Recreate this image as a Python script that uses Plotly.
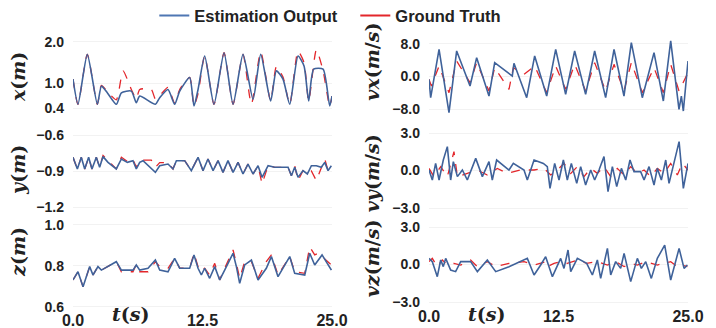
import plotly.graph_objects as go

# ---------------- data ----------------
t_x_est = [0, 0.48, 1.38, 2.35, 2.74, 3.31, 4.18, 4.67, 5.63, 6.11, 6.44, 7.95, 8.37, 9.17, 9.81,
           10.30, 11.26, 11.68, 12.07, 12.71, 13.61, 14.58, 15.45, 16.41, 17.38, 18.12, 19.08,
           19.63, 20.27, 20.92, 21.72, 22.30, 22.75, 23.23, 24.14, 24.78, 25.0]
x_est = [1.10, 0.49, 1.70, 0.49, 0.93, 0.77, 0.49, 0.77, 0.81, 0.53, 0.69, 0.49, 0.65, 0.85, 0.49,
         0.81, 1.14, 0.45, 0.85, 1.66, 0.49, 1.74, 0.49, 1.70, 0.61, 1.70, 0.57,
         1.30, 1.10, 0.49, 1.66, 1.42, 0.57, 1.34, 1.34, 0.45, 0.69]
t_x_gt = [0, 0.48, 1.38, 2.35, 2.74, 3.31, 4.18, 4.83, 5.63, 6.11, 6.44, 7.56, 7.95, 8.37, 9.17,
          9.81, 10.30, 11.26, 11.68, 12.07, 12.71, 13.61, 14.58, 15.45, 16.41, 17.22, 18.12,
          19.08, 19.63, 20.27, 20.92, 21.72, 22.30, 22.75, 23.49, 24.14, 24.78, 25.0]
x_gt = [1.10, 0.49, 1.70, 0.49, 0.95, 0.80, 0.60, 1.30, 0.85, 0.62, 0.85, 0.85, 0.62, 0.70, 0.90,
        0.52, 0.85, 1.14, 0.45, 0.75, 1.66, 0.49, 1.74, 0.49, 1.70, 0.49, 1.76,
        0.57, 1.40, 1.15, 0.49, 1.78, 1.50, 0.57, 1.81, 1.30, 0.45, 0.69]

t_y = [0, 0.42, 0.80, 1.13, 1.51, 1.83, 2.25, 2.57, 2.90, 3.38, 4.18, 4.67, 5.25, 5.79, 6.11,
       6.44, 6.76, 7.56, 7.95, 8.37, 9.17, 9.65, 9.98, 10.78, 11.42, 12.07, 12.55, 13.03, 13.52,
       14.00, 14.48, 14.96, 15.45, 15.93, 16.41, 16.89, 17.38, 17.86, 18.25, 18.83, 19.47, 20.76,
       21.08, 21.40, 21.72, 22.20, 22.62, 23.01, 23.49, 23.97, 24.30, 24.62, 24.94]
y_est = [-0.786, -0.883, -0.786, -0.883, -0.786, -0.883, -0.786, -0.869, -0.780, -0.828, -0.883,
         -0.800, -0.828, -0.814, -0.883, -0.828, -0.814, -0.880, -0.911, -0.856, -0.842, -0.883,
         -0.814, -0.814, -0.897, -0.786, -0.897, -0.800, -0.897, -0.814, -0.911, -0.814, -0.911,
         -0.828, -0.925, -0.842, -0.925, -0.856, -0.953, -0.856, -0.869, -0.869, -0.939, -0.869,
         -0.953, -0.897, -0.925, -0.856, -0.856, -0.869, -0.828, -0.897, -0.856]
y_gt = [-0.786, -0.883, -0.786, -0.883, -0.786, -0.883, -0.786, -0.869, -0.770, -0.810, -0.883,
        -0.786, -0.820, -0.800, -0.870, -0.810, -0.810, -0.810, -0.870, -0.830, -0.830, -0.883,
        -0.814, -0.814, -0.897, -0.786, -0.897, -0.800, -0.897, -0.814, -0.911, -0.814, -0.911,
        -0.828, -0.925, -0.842, -0.925, -0.856, -1.008, -0.856, -0.869, -0.869, -0.939, -0.855,
        -0.980, -0.897, -0.925, -0.900, -0.980, -0.869, -0.800, -0.897, -0.856]

t_z_est = [0, 0.48, 0.97, 1.61, 1.93, 2.41, 2.74, 4.18, 4.67, 5.79, 6.11, 6.44, 7.24, 7.95, 8.37,
           9.17, 9.81, 10.30, 11.26, 11.68, 12.07, 12.39, 12.71, 13.19, 13.68, 14.16, 14.64, 15.45,
           15.77, 16.09, 16.57, 17.22, 17.86, 18.66, 19.15, 19.79, 20.92, 21.40, 22.37, 22.85,
           23.33, 24.04, 24.94]
z_est = [0.732, 0.772, 0.699, 0.797, 0.756, 0.797, 0.780, 0.821, 0.780, 0.780, 0.805, 0.780, 0.789,
         0.829, 0.780, 0.772, 0.837, 0.789, 0.789, 0.854, 0.789, 0.756, 0.789, 0.740, 0.797, 0.732,
         0.780, 0.862, 0.797, 0.715, 0.805, 0.829, 0.732, 0.789, 0.846, 0.748, 0.846, 0.764, 0.756,
         0.862, 0.805, 0.854, 0.780]
t_z_gt = [0, 0.48, 0.97, 1.61, 1.93, 2.41, 2.74, 4.18, 4.67, 5.79, 6.11, 6.44, 7.24, 7.95, 8.37,
          9.17, 9.81, 10.30, 11.26, 11.68, 12.07, 12.39, 12.71, 13.19, 13.68, 14.16, 14.64, 15.45,
          15.77, 16.09, 16.57, 17.22, 17.86, 18.66, 19.15, 19.79, 20.92, 21.40, 22.37, 22.85,
          23.33, 23.65, 24.04, 24.94]
z_gt = [0.732, 0.772, 0.699, 0.797, 0.756, 0.797, 0.780, 0.821, 0.772, 0.772, 0.808, 0.772, 0.772,
        0.821, 0.797, 0.789, 0.837, 0.789, 0.789, 0.862, 0.797, 0.772, 0.789, 0.756, 0.813, 0.732,
        0.789, 0.878, 0.813, 0.740, 0.821, 0.821, 0.740, 0.821, 0.854, 0.756, 0.846, 0.772, 0.764,
        0.894, 0.854, 0.862, 0.846, 0.805]

t_vx_est = [0, 0.16, 0.97, 1.93, 2.67, 3.96, 4.60, 5.79, 6.34, 8.04, 8.20, 9.43, 10.20, 11.36,
            12.23, 13.19, 14.06, 15.12, 15.99, 17.05, 17.86, 18.82, 19.53, 20.59, 21.72, 22.62,
            23.33, 24.13, 24.36, 24.55, 25.0]
vx_est = [-0.70, -5.21, 6.69, -8.90, 6.28, -2.34, 4.64, -4.80, 3.41, 0.12, 3.24, -5.21, 5.05, -4.80,
          6.69, -4.39, 6.28, -4.39, 6.28, -5.21, 6.69, -4.80, 8.33, -5.21, 5.87, -6.03,
          8.74, -8.08, -4.80, -8.49, 3.82]
t_vx_gt = [0, 0.23, 0.97, 1.93, 2.67, 3.96, 4.60, 5.79, 6.34, 7.72, 8.14, 9.17, 10.20, 11.36,
           12.23, 13.19, 14.06, 15.12, 15.99, 17.05, 17.86, 18.82, 19.53, 20.59, 21.72, 22.62,
           23.33, 24.13, 25.0]
vx_gt = [-0.70, -2.34, 2.58, -3.98, 3.82, -1.52, 3.41, -3.57, 2.17, -3.16, 2.17, 0.53, 2.58, -3.98,
         2.58, -3.16, 2.99, -3.57, 3.41, -3.57, 2.99, -3.57, 3.41, -3.98, 2.17, -3.98,
         2.99, -3.57, 0.94]

t_vy_est = [0, 0.32, 0.64, 0.97, 1.38, 1.77, 2.09, 2.35, 2.74, 3.22, 3.70, 4.51, 5.15, 5.79, 6.11,
            6.53, 7.72, 8.14, 9.17, 9.49, 10.14, 11.04, 11.42, 11.68, 12.13, 12.55, 12.97, 13.35,
            13.74, 14.26, 14.64, 15.12, 15.61, 15.99, 16.41, 16.89, 17.28, 17.70, 18.12, 18.57,
            18.99, 19.40, 19.79, 20.43, 20.76, 21.24, 21.72, 22.04, 22.43, 22.85, 23.17, 23.65,
            24.14, 24.55, 25.0]
vy_est = [0.04, -0.76, 0.57, -0.76, 0.84, 1.91, -0.76, 0.71, -0.49, 0.04, -0.76, 0.97, -0.49, 0.71,
          -0.76, 0.84, 0.04, 0.57, 0.04, -0.76, 0.84, 0.57, 0.31, -1.43, 0.57, -0.76, 0.84, -0.76,
          0.57, -1.03, 0.31, -1.16, 0.04, -0.76, 0.04, 1.11, -1.69, 0.31, -1.29, 0.17,
          -0.76, 0.84, -0.09, -0.09, -0.76, 0.31, -1.16, 0.17, -0.76, 0.84, -1.03, 0.57,
          2.31, -1.43, 0.57]
t_vy_gt = [0, 0.48, 1.13, 1.77, 2.41, 2.74, 3.70, 4.67, 5.63, 6.60, 7.56, 8.85, 10.14, 11.10, 11.75,
           12.39, 13.03, 13.68, 14.32, 14.96, 15.61, 16.25, 16.89, 17.54, 18.18, 18.83, 19.47,
           20.11, 20.76, 21.40, 22.04, 22.69, 23.33, 23.97, 24.46, 25.0]
vy_gt = [0.17, -0.49, 0.31, -0.49, 1.51, -0.49, -0.23, 0.04, -0.36, 0.17, -0.23, 0.04, 0.04, 0.17,
         -0.36, 0.04, 0.57, -0.23, 0.31, -0.49, 0.17, -0.23, 0.31, -0.49, 0.17, -0.36, 0.31,
         -0.23, 0.04, -0.49, 0.17, -0.23, 0.57, -0.36, 0.57, 0.04]

t_vz_est = [0, 0.32, 0.80, 1.13, 1.38, 1.61, 2.09, 2.57, 3.06, 4.02, 4.67, 5.63, 6.44, 7.72, 9.49,
            10.14, 10.78, 11.26, 11.91, 12.71, 13.03, 13.42, 13.68, 14.32, 15.22, 15.77, 16.25,
            16.57, 17.22, 17.54, 18.02, 18.50, 18.83, 19.47, 20.11, 20.50, 20.92, 21.46, 22.04,
            22.75, 23.33, 24.14, 24.62, 24.94]
vz_est = [0.49, 0.23, -0.97, 0.36, -0.17, 0.49, -0.44, -0.57, 0.23, 0.23, -0.57, 0.36, -0.57, -0.17,
          0.49, -0.84, -0.04, 0.63, -0.97, 0.49, -0.31, 1.16, -0.57, 0.49, 0.09, -0.84, 0.36,
          -1.11, 1.29, -0.84, 0.23, -0.31, 0.89, -1.37, 0.49, -0.31, 0.23, -1.11, 0.49,
          1.56, -1.24, 1.29, -0.31, -0.04]
t_vz_gt = [0, 0.32, 0.80, 1.29, 1.77, 2.41, 3.06, 4.02, 4.67, 5.63, 6.44, 7.72, 9.17, 10.14, 11.26,
           11.42, 12.07, 12.71, 13.35, 14.32, 15.22, 16.25, 17.22, 18.02, 18.83, 19.47, 20.11,
           20.92, 22.04, 22.75, 23.33, 23.97, 24.46, 24.94]
vz_gt = [0.23, 0.49, -0.17, 0.36, -0.04, 0.09, -0.04, 0.36, -0.17, 0.23, -0.17, 0.09, 0.23, -0.04,
         0.23, -0.17, 0.09, 0.23, 0.09, 0.36, 0.09, 0.23, -0.04, 0.23, -0.17, 0.09, -0.04,
         0.23, -0.04, 0.09, 0.23, -0.17, -0.04, -0.17]

x_ticks = [0.0, 12.5, 25.0]
series_names = ["Estimation Output", "Ground Truth"]

# ---------------- panels ----------------
BLUE = "#3f629a"
RED = "#e3262b"
LEFT = [73 / 716, 332 / 716]
RIGHT = [429 / 716, 688 / 716]

panels = [
    dict(t_e=t_x_est, e=x_est, t_g=t_x_gt, g=x_gt, xd=LEFT, yd=[0.6643, 0.8784],
         rng=[0.35, 2.05], ticks=[0.4, 1.0, 2.0], title="<i>x</i>(<i>m</i>)", ty=0.765, tx=18,
         shape="spline"),
    dict(t_e=t_vx_est, e=vx_est, t_g=t_vx_gt, g=vx_gt, xd=RIGHT, yd=[0.6527, 0.8808],
         rng=[-9.2, 9.2], ticks=[-8.0, 0.0, 8.0], title="<i>vx</i>(<i>m</i>/<i>s</i>)", ty=0.812, tx=372,
         shape="linear"),
    dict(t_e=t_y, e=y_est, t_g=t_y, g=y_gt, xd=LEFT, yd=[0.3616, 0.5957],
         rng=[-1.22, -0.58], ticks=[-1.2, -0.9, -0.6], title="<i>y</i>(<i>m</i>)", ty=0.482, tx=18,
         shape="linear"),
    dict(t_e=t_vy_est, e=vy_est, t_g=t_vy_gt, g=vy_gt, xd=RIGHT, yd=[0.3582, 0.6021],
         rng=[-3.2, 3.2], ticks=[-3.0, 0.0, 3.0], title="<i>vy</i>(<i>m</i>/<i>s</i>)", ty=0.472, tx=372,
         shape="linear"),
    dict(t_e=t_z_est, e=z_est, t_g=t_z_gt, g=z_gt, xd=LEFT, yd=[0.0578, 0.3203],
         rng=[0.59, 1.01], ticks=[0.6, 0.8, 1.0], title="<i>z</i>(<i>m</i>)", ty=0.232, tx=18,
         shape="linear"),
    dict(t_e=t_vz_est, e=vz_est, t_g=t_vz_gt, g=vz_gt, xd=RIGHT, yd=[0.0716, 0.3155],
         rng=[-3.2, 3.2], ticks=[-3.0, 0.0, 3.0], title="<i>vz</i>(<i>m</i>/<i>s</i>)", ty=0.213, tx=372,
         shape="linear"),
]

fig = go.Figure()
ytick_font = dict(family="Liberation Sans, Arial, sans-serif", size=14, color="#222222", weight="bold")
xtick_font = dict(family="Liberation Sans, Arial, sans-serif", size=16, color="#222222", weight="bold")
title_font = dict(family="DejaVu Serif, serif", size=19, color="#222222", weight="bold")
annotations = []
layout_axes = {}

for i, p in enumerate(panels, start=1):
    assert len(p["t_e"]) == len(p["e"]), (i, "est")
    assert len(p["t_g"]) == len(p["g"]), (i, "gt")
    sfx = "" if i == 1 else str(i)
    fig.add_trace(go.Scatter(x=p["t_g"], y=p["g"], mode="lines", xaxis="x" + sfx, yaxis="y" + sfx,
                             line=dict(color=RED, width=1.3, dash="dash", shape=p["shape"],
                                       smoothing=0.6),
                             showlegend=False, hoverinfo="skip"))
    fig.add_trace(go.Scatter(x=p["t_e"], y=p["e"], mode="lines", xaxis="x" + sfx, yaxis="y" + sfx,
                             line=dict(color=BLUE, width=1.6, shape=p["shape"], smoothing=0.6),
                             showlegend=False, hoverinfo="skip"))
    bottom = i >= 5
    layout_axes["xaxis" + sfx] = dict(domain=p["xd"], range=[0, 25], anchor="y" + sfx,
                                      tickvals=x_ticks, tickformat=".1f", showticklabels=bottom,
                                      tickfont=xtick_font, showgrid=False, zeroline=False,
                                      showline=False, ticks="", automargin=False)
    layout_axes["yaxis" + sfx] = dict(domain=p["yd"], range=p["rng"], anchor="x" + sfx,
                                      tickvals=p["ticks"], tickformat=".1f", tickfont=ytick_font,
                                      showgrid=True, gridcolor="rgba(0,0,0,0.05)", zeroline=False,
                                      showline=False, ticks="", ticklabelstandoff=8,
                                      automargin=False)
    annotations.append(dict(text=p["title"], xref="paper", yref="paper", x=p["tx"] / 716, y=p["ty"],
                            xanchor="center", yanchor="middle", textangle=-90, showarrow=False,
                            font=title_font))

for xc in (130, 486):
    annotations.append(dict(text="<i>t</i>(<i>s</i>)", xref="paper", yref="paper", x=xc / 716,
                            y=1 - 314 / 328, xanchor="center", yanchor="middle", showarrow=False,
                            font=title_font))

# legend-only entries
fig.add_trace(go.Scatter(x=[None], y=[None], mode="lines", name=series_names[0],
                         line=dict(color="#4f77b3", width=2)))
fig.add_trace(go.Scatter(x=[None], y=[None], mode="lines", name=series_names[1],
                         line=dict(color=RED, width=2)))

fig.update_layout(
    width=716, height=328,
    margin=dict(l=0, r=0, t=0, b=0, autoexpand=False),
    paper_bgcolor="white", plot_bgcolor="white",
    showlegend=True,
    legend=dict(orientation="h", x=0.2155, xanchor="left", y=1.005, yanchor="top",
                font=dict(family="Liberation Sans, Arial, sans-serif", size=16.5, color="#222222",
                          weight="bold"),
                itemwidth=30, entrywidth=156, entrywidthmode="pixels",
                tracegroupgap=0, bgcolor="rgba(0,0,0,0)"),
    annotations=annotations,
    **layout_axes,
)

fig.write_html("out.html", config={"displayModeBar": False},
               post_script="document.body.style.margin='0';")
